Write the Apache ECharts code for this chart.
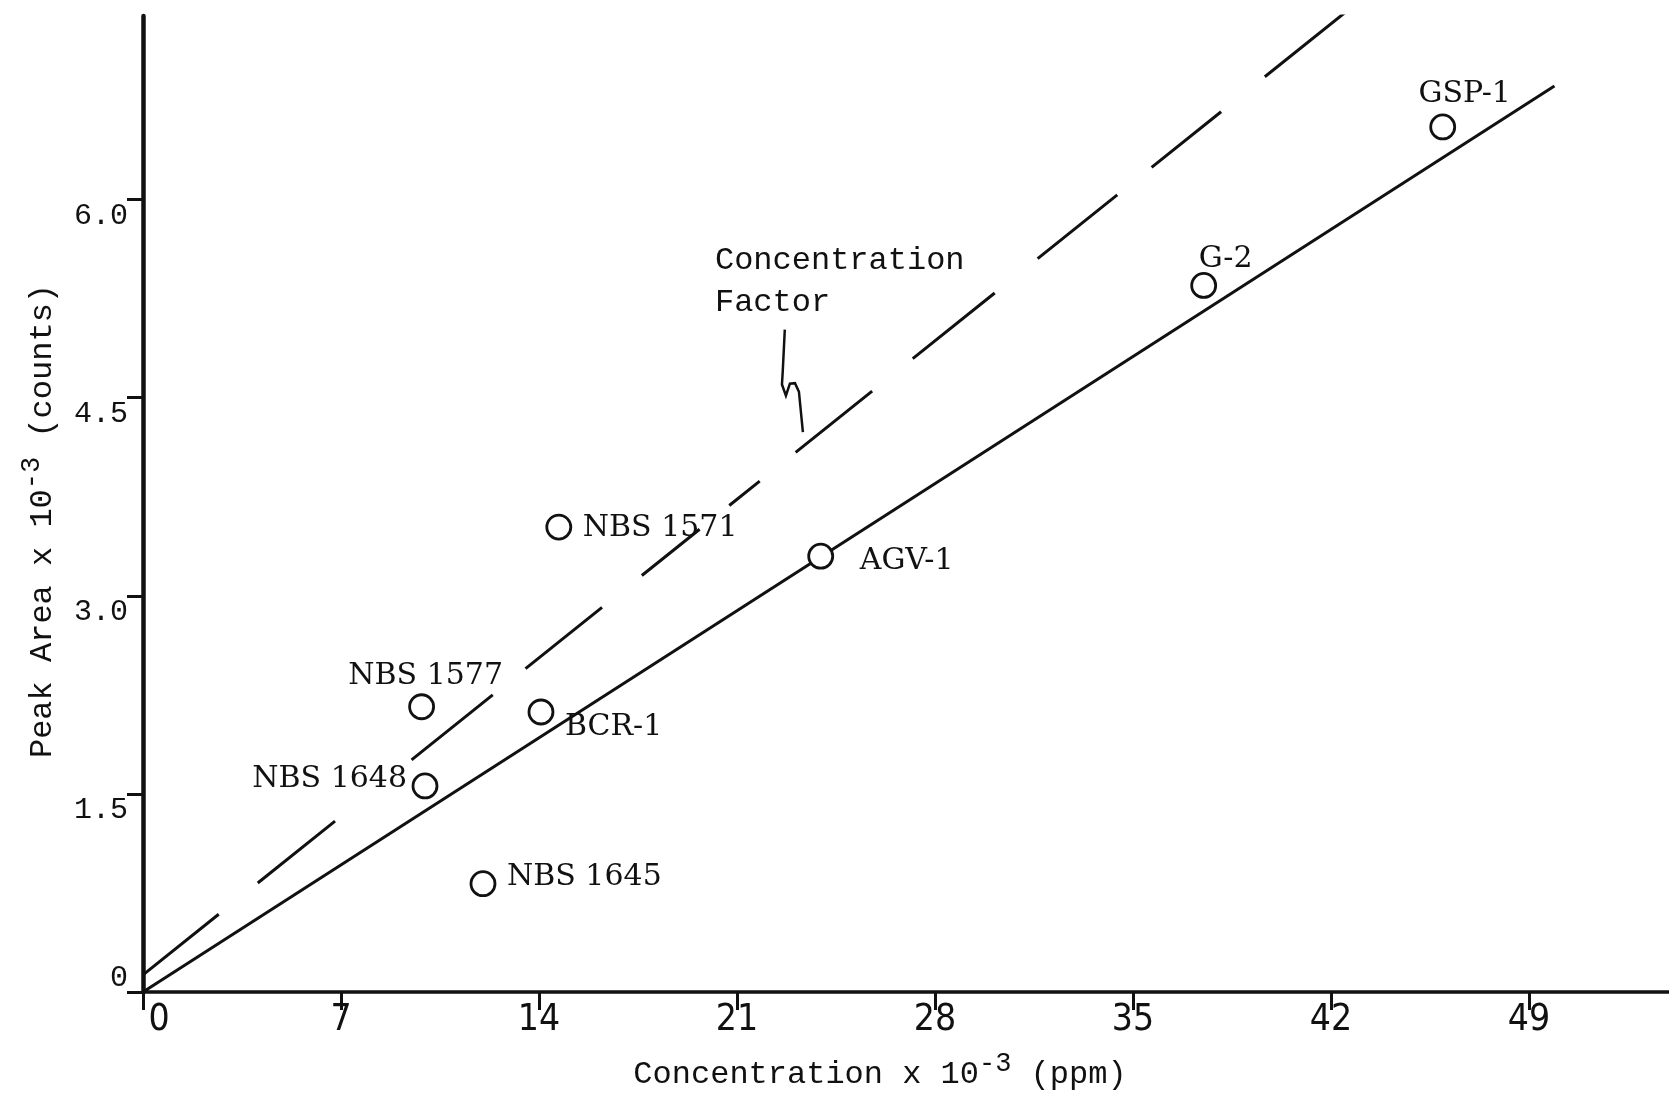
<!DOCTYPE html>
<html>
<head>
<meta charset="utf-8">
<title>Peak area vs concentration</title>
<script src="https://cdn.jsdelivr.net/npm/echarts@6/dist/echarts.min.js"></script>
<style>
  html, body { margin: 0; padding: 0; background: #fff; }
  #chart { width: 1669px; height: 1095px; }
</style>
</head>
<body>
<div id="chart"></div>
<script>
// standards: concentration x 10^-3 (ppm) against peak area x 10^-3 (counts)
const standards = ['GSP-1', 'G-2', 'AGV-1', 'NBS 1571', 'NBS 1577', 'BCR-1', 'NBS 1648', 'NBS 1645']
const concentration = [45.95, 37.5, 23.96, 14.7, 9.85, 14.07, 9.97, 12.02]
const peakArea = [6.55, 5.35, 3.30, 3.52, 2.16, 2.12, 1.56, 0.82]

// calibration line (solid) and concentration factor line (dashed)
const fitX = [0, 49.9]
const fitY = [0, 6.86]
const factorX = [0, 42.52]
const factorY = [0.13, 7.42]

const xTicks = [0, 7, 14, 21, 28, 35, 42, 49]
const yTicks = [0, 1.5, 3.0, 4.5, 6.0]

// the hand drawn arrow under the note
const arrowX = [22.69, 22.62, 22.59, 22.73, 22.87, 23.05, 23.19, 23.33]
const arrowY = [5.015, 4.71, 4.60, 4.515, 4.606, 4.61, 4.545, 4.24]
const noteText = 'Concentration\nFactor'
const noteX = [20.22]
const noteY = [5.38]

const ink = '#111'
const mono = "'Liberation Mono', 'DejaVu Sans Mono', monospace"
const serif = "'DejaVu Serif', 'Liberation Serif', serif"
const narrow = "'Liberation Sans Narrow', 'DejaVu Sans Condensed', 'Roboto Condensed', sans-serif"

// the typed dashes are not even, so the pattern is spelled out (px along the line)
const factorDash = [97, 50, 99, 98, 104, 42, 98, 51, 74, 38, 39, 46, 98, 52, 105, 55, 102, 44, 89, 56, 103, 100]

// where each label sits around its circle (pixels from circle centre)
const labelPlace = {
  'GSP-1': { align: 'center', offset: [22, -33] },
  'G-2': { align: 'center', offset: [22, -26] },
  'AGV-1': { align: 'left', offset: [39, 5] },
  'NBS 1571': { align: 'left', offset: [24, 1] },
  'NBS 1577': { align: 'center', offset: [4, -31] },
  'BCR-1': { align: 'left', offset: [24, 15] },
  'NBS 1648': { align: 'right', offset: [-18, -7] },
  'NBS 1645': { align: 'left', offset: [24, -6] }
}

const chart = echarts.init(document.getElementById('chart'))

const pointData = standards.map((name, i) => ({
  name: name,
  value: [concentration[i], peakArea[i]],
  label: {
    show: true,
    position: 'inside',
    align: labelPlace[name].align,
    verticalAlign: 'middle',
    offset: labelPlace[name].offset
  }
}))

chart.setOption({
  backgroundColor: '#fff',
  animation: false,
  grid: {
    left: 143,
    right: 0,
    top: 16,
    bottom: 103,
    containLabel: false,
    outerBoundsMode: 'none'
  },
  xAxis: {
    type: 'value',
    min: 0,
    max: 53.95,
    interval: 7,
    name: 'Concentration x 10{sup|-3} (ppm)',
    nameLocation: 'middle',
    nameGap: 58,
    nameTextStyle: {
      color: ink,
      fontFamily: mono,
      fontSize: 32,
      padding: [0, 52, 0, 0],
      rich: {
        sup: { fontFamily: mono, fontSize: 27, color: ink, padding: [0, 0, 22, 0] }
      }
    },
    axisLine: { lineStyle: { color: ink, width: 3.5 } },
    axisTick: { length: 18, customValues: xTicks, lineStyle: { color: ink, width: 3 } },
    axisLabel: {
      customValues: xTicks,
      margin: 10,
      color: ink,
      fontFamily: narrow,
      fontSize: 37,
      formatter: function(v) {
        return v === 0 ? '{z|0}' : String(v)
      },
      rich: {
        z: { fontFamily: narrow, fontSize: 37, color: ink, padding: [0, 0, 0, 32] }
      }
    },
    splitLine: { show: false }
  },
  yAxis: {
    type: 'value',
    min: 0,
    max: 7.39,
    interval: 1.5,
    name: 'Peak Area x 10{sup|-3} (counts)',
    nameLocation: 'middle',
    nameRotate: 90,
    nameGap: 76,
    nameTextStyle: {
      color: ink,
      fontFamily: mono,
      fontSize: 32,
      padding: [0, 34, 0, 0],
      rich: {
        sup: { fontFamily: mono, fontSize: 27, color: ink, padding: [0, 0, 22, 0] }
      }
    },
    axisLine: { lineStyle: { color: ink, width: 4.5 } },
    axisTick: { length: 16, customValues: yTicks, lineStyle: { color: ink, width: 3 } },
    axisLabel: {
      customValues: yTicks,
      margin: 15,
      color: ink,
      fontFamily: mono,
      fontSize: 30,
      formatter: function(v) {
        return v === 0 ? '{z|0}' : '{n|' + v.toFixed(1) + '}'
      },
      rich: {
        n: { fontFamily: mono, fontSize: 30, color: ink, padding: [32, 0, 0, 0] },
        z: { fontFamily: mono, fontSize: 30, color: ink, padding: [0, 0, 28, 0] }
      }
    },
    splitLine: { show: false }
  },
  series: [
    {
      name: 'calibration',
      type: 'line',
      data: fitX.map((x, i) => [x, fitY[i]]),
      symbol: 'none',
      lineStyle: { color: ink, width: 3 },
      z: 2
    },
    {
      name: 'concentration factor',
      type: 'line',
      data: factorX.map((x, i) => [x, factorY[i]]),
      symbol: 'none',
      lineStyle: { color: ink, width: 3, type: factorDash },
      z: 2
    },
    {
      name: 'standards',
      type: 'scatter',
      data: pointData,
      symbol: 'circle',
      symbolSize: 24,
      itemStyle: { color: '#fff', borderColor: ink, borderWidth: 2.8, opacity: 1 },
      label: {
        color: ink,
        fontFamily: serif,
        fontSize: 30,
        formatter: '{b}'
      },
      z: 5
    },
    {
      name: 'note',
      type: 'scatter',
      data: noteX.map((x, i) => [x, noteY[i]]),
      symbolSize: 0,
      itemStyle: { opacity: 1 },
      label: {
        show: true,
        position: 'inside',
        align: 'left',
        verticalAlign: 'middle',
        formatter: noteText,
        color: ink,
        fontFamily: mono,
        fontSize: 32,
        lineHeight: 42
      },
      silent: true
    },
    {
      name: 'arrow',
      type: 'lines',
      coordinateSystem: 'cartesian2d',
      polyline: true,
      symbol: ['none', 'arrow'],
      symbolSize: 14,
      lineStyle: { color: ink, width: 2.5, opacity: 1, curveness: 0 },
      data: [{ coords: arrowX.map((x, i) => [x, arrowY[i]]) }],
      silent: true
    }
  ]
})
</script>
</body>
</html>
